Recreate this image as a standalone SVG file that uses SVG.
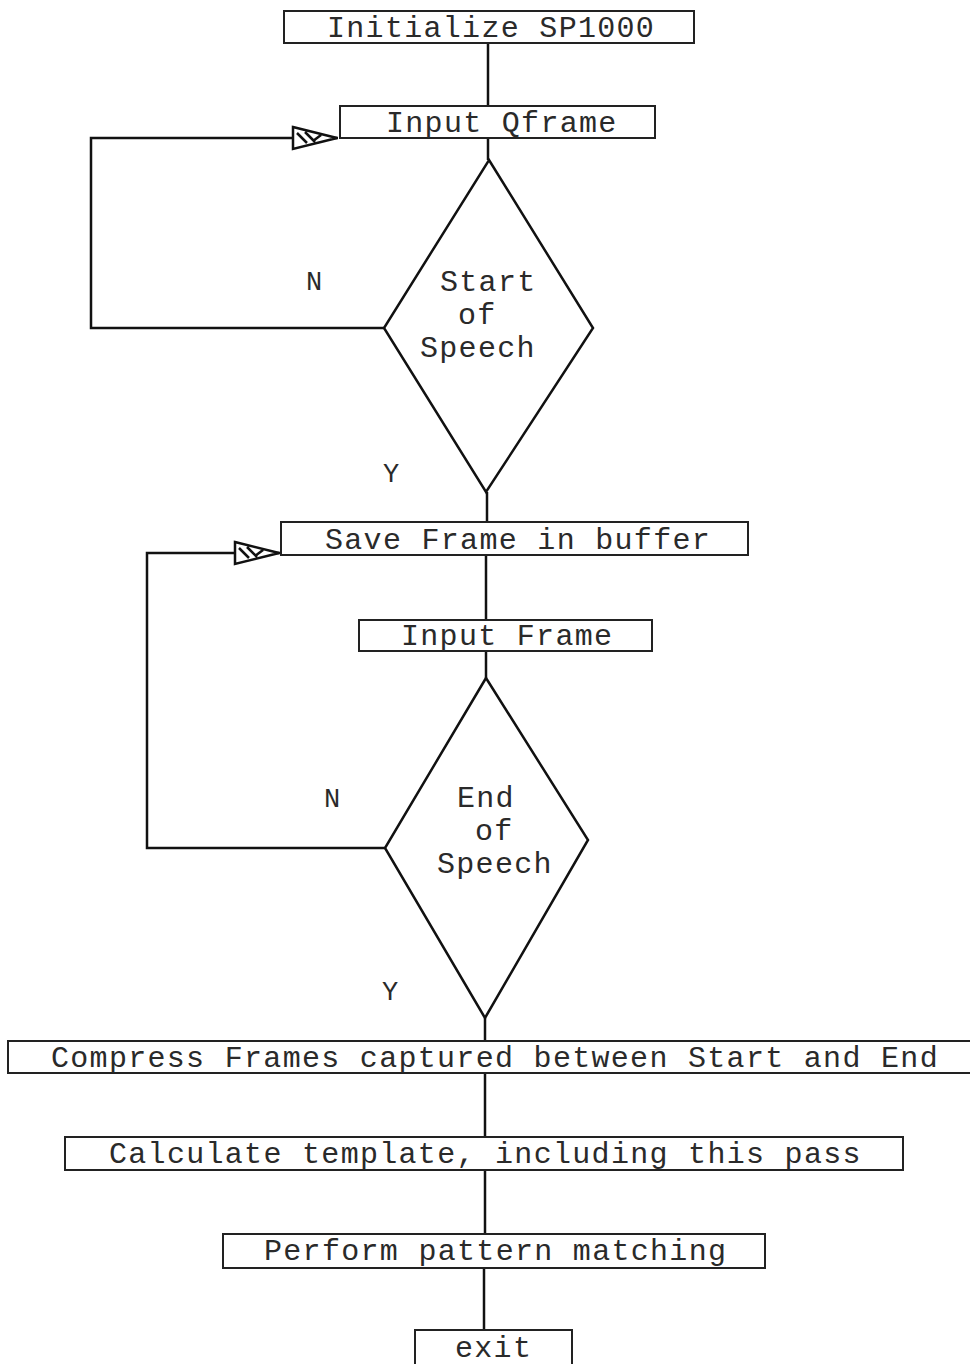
<svg xmlns="http://www.w3.org/2000/svg" width="970" height="1364" viewBox="0 0 970 1364">
<style>
.box{fill:none;stroke:#222;stroke-width:2}
.dia{fill:none;stroke:#111;stroke-width:2.5}
.ln{fill:none;stroke:#111;stroke-width:2.5}
.t{font-family:"Liberation Mono","Courier New",monospace;font-size:30px;letter-spacing:1.3px;fill:#2a2a2a}
.lbl{font-family:"Liberation Mono","Courier New",monospace;font-size:27px;fill:#2a2a2a}
</style>
<defs>
<marker id="arr" viewBox="0 0 48 26" refX="47" refY="13" markerWidth="48" markerHeight="26" markerUnits="userSpaceOnUse" orient="auto">
<path d="M2,2 L46,13 L2,24 Z M6,8 L16,18 M14,7 L24,17 M30,10 L22,16" fill="#fff" stroke="#111" stroke-width="2.5"/>
</marker>
</defs>
<rect width="970" height="1364" fill="#fff"/>
<g id="connectors">
<path class="ln" d="M488,43 V106"/>
<path class="ln" d="M488,138 V160"/>
<path class="ln" d="M487,492 V522"/>
<path class="ln" d="M486,555 V620"/>
<path class="ln" d="M486,651 V678"/>
<path class="ln" d="M485,1018 V1041"/>
<path class="ln" d="M485,1073 V1137"/>
<path class="ln" d="M485,1170 V1234"/>
<path class="ln" d="M484,1268 V1330"/>
<path class="ln" d="M385,328 H91 V138 H338" marker-end="url(#arr)"/>
<path class="ln" d="M385,848 H147 V553 H280" marker-end="url(#arr)"/>
</g>
<g id="n_init">
<rect class="box" x="284" y="11" width="410" height="32"/>
<text class="t" x="327" y="37">Initialize SP1000</text>
</g>
<g id="n_inputq">
<rect class="box" x="340" y="106" width="315" height="32"/>
<text class="t" x="386" y="132">Input Qframe</text>
</g>
<g id="n_start">
<polygon class="dia" points="489,160 593,328 486,492 384,328"/>
<text class="t" x="440" y="291">Start</text>
<text class="t" x="458" y="324">of</text>
<text class="t" x="420" y="357">Speech</text>
<text class="lbl" x="306" y="290">N</text>
<text class="lbl" x="383" y="482">Y</text>
</g>
<g id="n_save">
<rect class="box" x="281" y="522" width="467" height="33"/>
<text class="t" x="325" y="549">Save Frame in buffer</text>
</g>
<g id="n_inputf">
<rect class="box" x="359" y="620" width="293" height="31"/>
<text class="t" x="401" y="645">Input Frame</text>
</g>
<g id="n_end">
<polygon class="dia" points="486,678 588,840 485,1018 385,848"/>
<text class="t" x="457" y="807">End</text>
<text class="t" x="475" y="840">of</text>
<text class="t" x="437" y="873">Speech</text>
<text class="lbl" x="324" y="807">N</text>
<text class="lbl" x="382" y="1000">Y</text>
</g>
<g id="n_compress">
<rect class="box" x="8" y="1041" width="970" height="32"/>
<text class="t" x="51" y="1067">Compress Frames captured between Start and End</text>
</g>
<g id="n_calc">
<rect class="box" x="65" y="1137" width="838" height="33"/>
<text class="t" x="109" y="1163">Calculate template, including this pass</text>
</g>
<g id="n_perform">
<rect class="box" x="223" y="1234" width="542" height="34"/>
<text class="t" x="264" y="1260">Perform pattern matching</text>
</g>
<g id="n_exit">
<rect class="box" x="415" y="1330" width="157" height="36"/>
<text class="t" x="455" y="1357">exit</text>
</g>
</svg>
